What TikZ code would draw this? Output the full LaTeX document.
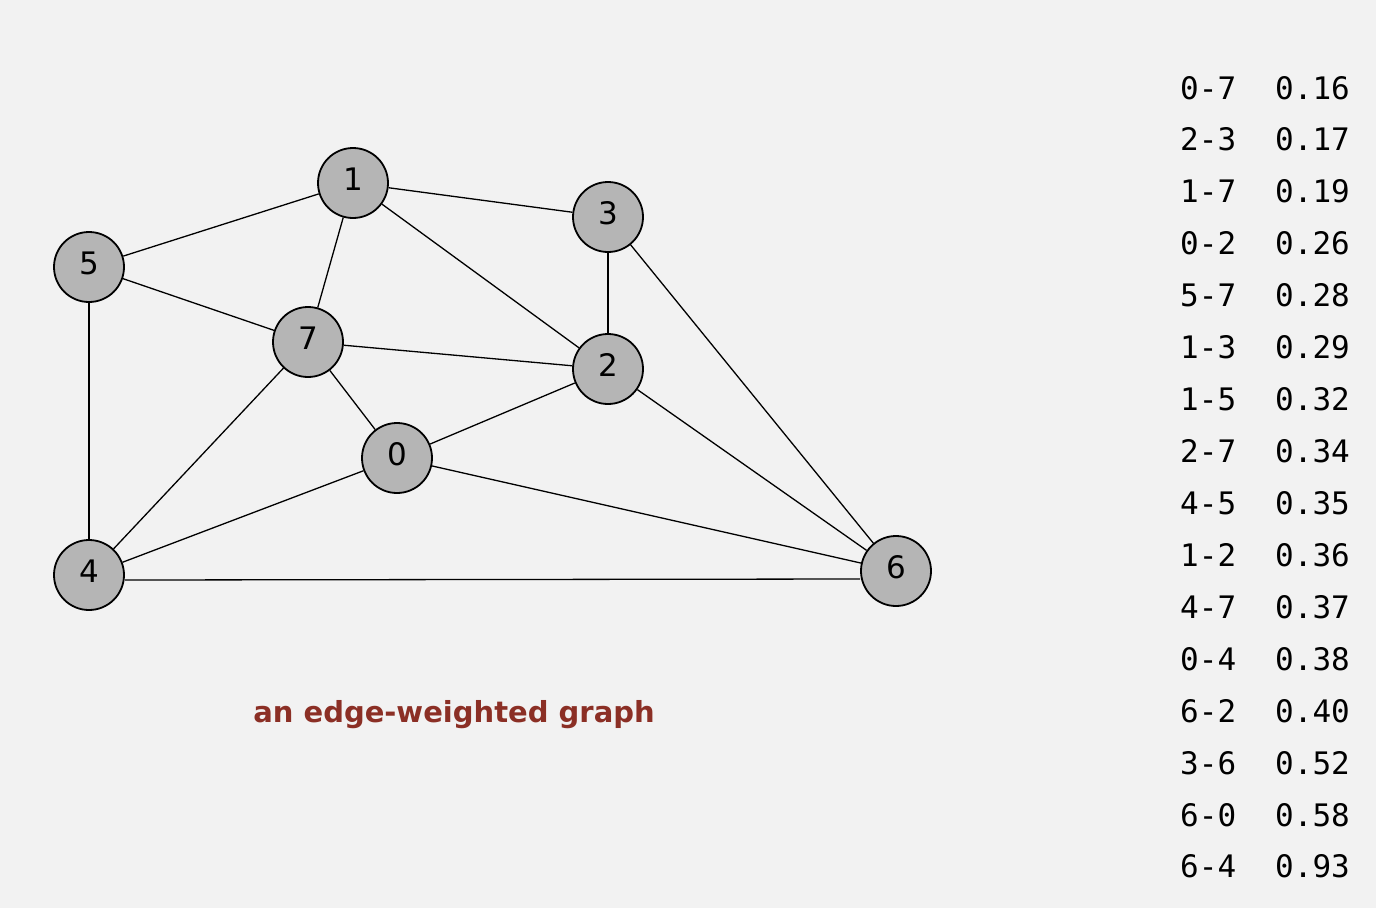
\documentclass[tikz,border=0pt]{standalone}
\usepackage{fontspec}
\setmainfont{DejaVu Sans}
\newfontfamily\monofam{DejaVu Sans Mono}
\definecolor{bgc}{HTML}{F2F2F2}
\definecolor{nodefill}{HTML}{B5B5B5}
\definecolor{capred}{HTML}{8B2F25}
\begin{document}
\begin{tikzpicture}[x=1pt,y=-1pt,
  vert/.style={circle,draw=black,line width=1.8pt,fill=nodefill,minimum size=70pt,inner sep=0pt},
  lbl/.style={font=\fontsize{31}{31}\selectfont,inner sep=0pt,yshift=4pt},
  edge/.style={line width=1.3pt,black},
  tbl/.style={font=\monofam\fontsize{31}{31}\selectfont,inner sep=0pt,anchor=base west},
  caption/.style={font=\bfseries\fontsize{29}{29}\selectfont,text=capred,inner sep=0pt}]
\fill[bgc] (0,0) rectangle (1376,908);
\useasboundingbox (0,0) rectangle (1376,908);
% vertices
\node[vert,label={[lbl]center:1}] (n1) at (353,183) {};
\node[vert,label={[lbl]center:3}] (n3) at (608,217) {};
\node[vert,label={[lbl]center:5}] (n5) at (89,267) {};
\node[vert,label={[lbl]center:7}] (n7) at (308,342) {};
\node[vert,label={[lbl]center:2}] (n2) at (608,369) {};
\node[vert,label={[lbl]center:0}] (n0) at (397,458) {};
\node[vert,label={[lbl]center:4}] (n4) at (89,575) {};
\node[vert,label={[lbl]center:6}] (n6) at (896,571) {};
% edges
\draw[edge] (n0) -- (n7);
\draw[edge] (n2) -- (n3);
\draw[edge] (n1) -- (n7);
\draw[edge] (n0) -- (n2);
\draw[edge] (n5) -- (n7);
\draw[edge] (n1) -- (n3);
\draw[edge] (n1) -- (n5);
\draw[edge] (n2) -- (n7);
\draw[edge] (n4) -- (n5);
\draw[edge] (n1) -- (n2);
\draw[edge] (n4) -- (n7);
\draw[edge] (n0) -- (n4);
\draw[edge] (n6) -- (n2);
\draw[edge] (n3) -- (n6);
\draw[edge] (n6) -- (n0);
\draw[edge] ([yshift=-5pt]n4.east) -- ([yshift=-8pt]n6.west);
% caption
\node[caption] (cap) at (454,715) {an edge-weighted graph};
% table
\foreach \e/\w [count=\i from 0] in {0-7/0.16,2-3/0.17,1-7/0.19,0-2/0.26,5-7/0.28,1-3/0.29,1-5/0.32,2-7/0.34,4-5/0.35,1-2/0.36,4-7/0.37,0-4/0.38,6-2/0.40,3-6/0.52,6-0/0.58,6-4/0.93}{
  \node[tbl] (e\i) at (1180,{99+51.93*\i}) {\e};
  \node[tbl] (w\i) at (1275,{99+51.93*\i}) {\w};
}
\end{tikzpicture}
\end{document}
